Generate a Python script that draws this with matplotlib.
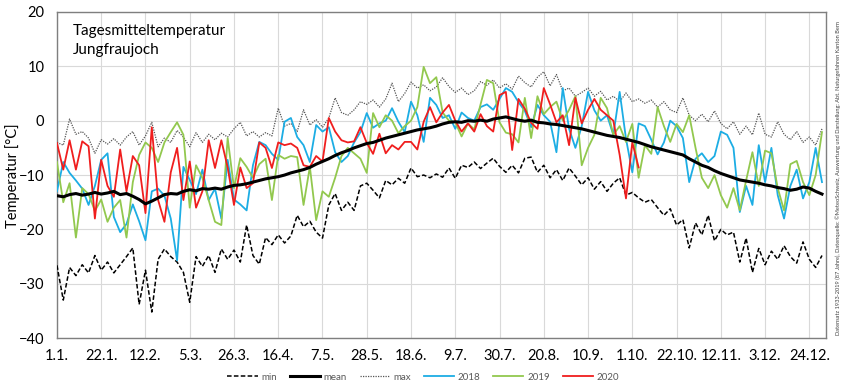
import numpy as np
import matplotlib
matplotlib.use("Agg")
import matplotlib.pyplot as plt

# day-of-year tick positions and labels
tick_days = [1, 22, 43, 64, 85, 106, 127, 148, 169, 190, 211, 232, 253, 274, 295, 316, 337, 358]
tick_labels = ['1.1.', '22.1.', '12.2.', '5.3.', '26.3.', '16.4.', '7.5.', '28.5.', '18.6.',
               '9.7.', '30.7.', '20.8.', '10.9.', '1.10.', '22.10.', '12.11.', '3.12.', '24.12.']

# values read every 3rd day (day 1, 4, 7, ...)
t_min = [-26.6, -33.0, -27.0, -28.5, -26.5, -28.0, -24.8, -27.5, -26.0, -28.0,
         -26.5, -25.0, -23.4, -33.8, -27.5, -35.2, -25.5, -23.6, -25.0, -26.0,
         -27.9, -33.4, -25.0, -26.8, -24.8, -27.9, -23.6, -25.5, -23.8, -26.0,
         -19.2, -24.8, -26.4, -21.5, -22.8, -21.0, -22.5, -21.2, -17.4, -19.5,
         -18.5, -20.5, -21.6, -15.5, -13.4, -16.5, -15.0, -16.5, -12.0, -11.5,
         -12.8, -14.2, -11.0, -11.8, -10.6, -11.5, -8.7, -10.3, -10.0, -10.5,
         -9.8, -10.4, -8.7, -10.6, -8.2, -8.6, -7.6, -8.8, -7.8, -6.9,
         -8.4, -9.5, -8.2, -9.6, -6.9, -6.7, -9.5, -8.2, -10.5, -9.0,
         -11.0, -8.7, -10.2, -11.8, -10.5, -12.6, -11.2, -13.0, -11.5, -10.5,
         -13.7, -13.2, -14.2, -15.0, -14.5, -16.0, -17.4, -16.2, -19.2, -18.2,
         -23.4, -18.8, -21.0, -17.4, -22.1, -20.0, -21.0, -20.5, -26.0, -21.6,
         -27.9, -23.5, -26.5, -24.0, -25.5, -23.0, -25.0, -26.2, -22.3, -25.5,
         -27.0, -24.8]

t_mean = [-13.8, -14.0, -13.6, -13.4, -13.7, -13.5, -13.2, -13.5, -13.3, -13.0,
          -13.6, -13.4, -13.9, -14.5, -15.3, -14.8, -14.2, -13.6, -13.4, -13.5,
          -13.0, -12.7, -12.9, -12.5, -12.6, -12.4, -12.6, -12.2, -11.9, -11.8,
          -11.6, -11.3, -11.0, -10.7, -10.5, -10.3, -10.0, -9.6, -9.3, -9.0,
          -8.6, -8.0, -7.5, -7.0, -6.4, -5.9, -5.5, -5.0, -4.6, -4.2,
          -4.0, -3.6, -3.2, -2.9, -2.6, -2.3, -2.0, -1.7, -1.5, -1.3,
          -1.0, -0.6, -0.3, -0.2, -0.3, 0.0, -0.1, 0.1, -0.1, 0.3,
          0.5, 0.7, 0.4, 0.1, -0.1, 0.1, -0.3, -0.4, -0.6, -0.7,
          -0.9, -1.1, -1.3, -1.5, -1.8, -2.1, -2.4, -2.7, -2.9, -3.1,
          -3.4, -3.7, -4.0, -4.4, -4.8, -5.1, -5.4, -5.7, -6.0, -6.3,
          -7.0, -7.6, -8.2, -8.6, -9.2, -9.7, -10.1, -10.5, -10.9, -11.1,
          -11.3, -11.5, -11.8, -12.0, -12.3, -12.5, -12.8, -12.6, -12.2, -12.4,
          -13.0, -13.5]

t_max = [-4.0, -4.5, 0.3, -2.5, -2.0, -3.2, -6.0, -3.5, -4.3, -3.3,
         -4.5, -3.0, -2.0, -4.5, -2.8, -0.3, -4.8, -3.2, -4.0, -1.8,
         -3.0, -4.8, -2.2, -4.0, -2.5, -3.5, -2.3, -3.0, -1.5, -0.3,
         -2.8, -2.0, -3.0, -2.2, -2.8, 2.3, -1.0, -0.5, -2.0, 2.0,
         -0.8, 0.2, -1.2, 0.5, 4.2, 1.5, 1.0, 2.0, 3.5, 3.0,
         3.8, 2.5, 4.0, 6.9, 3.5, 5.0, 7.1, 6.0, 6.6, 5.5,
         6.2, 7.9, 6.3, 5.2, 6.0, 4.8, 5.5, 7.2, 6.5, 7.5,
         6.0, 6.8, 5.8, 8.2, 7.0, 6.2, 8.0, 9.0, 6.4, 8.5,
         5.5, 6.0, 4.5, 5.2, 6.0, 4.5, 5.4, 3.8, 4.5, 3.5,
         5.1, 3.5, 4.0, 3.2, 3.8, 2.5, 3.5, 2.0, 1.5, 4.2,
         1.0, 0.0, 1.2, -0.2, 1.8, -0.5, -1.5, -0.2, -2.5, -1.0,
         -2.6, 1.4, -2.5, -3.0, -0.2, -2.5, -3.5, -2.0, -4.0, -3.0,
         -4.5, -1.5]

t_2018 = [-13.0, -7.6, -9.6, -11.0, -12.5, -15.5, -12.0, -7.2, -6.0, -17.7,
          -20.5, -19.0, -15.4, -18.5, -22.0, -13.0, -12.5, -13.8, -18.0, -25.7,
          -8.5, -10.9, -13.5, -9.0, -14.6, -12.5, -18.0, -7.2, -14.5, -15.4,
          -16.5, -8.2, -3.9, -4.5, -6.1, -7.2, -0.2, 0.5, -3.0, -4.5,
          -7.6, -0.8, -2.0, -1.2, -5.8, -7.6, -6.5, -4.0, -2.1, 1.4,
          -1.3, -0.5, 0.0, 2.3, -0.2, -2.1, 3.5, 1.0, -3.9, 4.2,
          2.9, 0.5, 1.0, -1.5, 1.5, 0.5, 0.0, 2.5, 3.0, 2.0,
          4.0, 6.0, 5.3, 3.4, 1.8, -1.2, 2.9, 1.0, -0.2, -5.8,
          6.0, -1.5, -5.0, -1.0, 5.3, 1.9, 0.0, 1.0, -2.6, 5.3,
          -3.3, -9.5, -0.5, -1.0, -3.5, -6.2, -4.0, 0.0, -1.0, -3.2,
          -11.3, -7.0, -6.0, -7.6, -6.5, -2.0, -2.6, -5.0, -16.8, -12.0,
          -15.5, -4.5, -11.3, -5.0, -13.7, -18.0, -12.0, -9.0, -14.3, -11.3,
          -5.0, -11.3]

t_2019 = [-7.6, -15.0, -11.5, -21.5, -12.4, -13.5, -16.6, -14.5, -18.6, -16.0,
          -14.6, -21.5, -11.3, -6.3, -4.0, -5.0, -7.6, -4.0, -2.1, -0.3,
          -2.6, -16.0, -8.2, -10.5, -14.6, -18.6, -19.2, -3.2, -12.4, -6.9,
          -8.5, -10.5, -8.0, -7.0, -14.6, -6.3, -7.0, -6.5, -6.7, -15.5,
          -8.5, -18.3, -13.0, -14.0, -10.5, -6.5, -5.0, -6.0, -7.0, -9.6,
          1.4, -1.2, 1.0, 0.0, -2.3, -1.0, 0.0, 2.5, 9.9, 6.9,
          8.0, 1.5, 0.0, -0.3, -2.9, -0.5, -1.6, 3.0, 7.5, 6.9,
          -0.3, -2.2, -2.5, -4.0, 4.2, -3.2, 4.5, 1.2, 2.5, 3.5,
          0.0, 2.0, 4.5, -8.2, -5.0, -2.6, 4.2, 2.3, -2.6, -1.0,
          -3.9, -0.6, -10.5, -4.5, -6.1, 2.5, -1.0, -3.9, -0.6, -2.1,
          1.0, -5.0, -10.5, -12.4, -10.0, -13.7, -16.0, -12.4, -16.5, -11.0,
          -5.8, -12.0, -5.5, -6.0, -12.4, -16.5, -8.0, -7.4, -11.3, -13.7,
          -10.0, -2.1]

# 2020 only until early October
t_2020 = [-4.1, -9.0, -3.6, -9.0, -3.8, -4.7, -18.0, -7.2, -12.0, -14.0,
          -5.3, -13.0, -6.5, -8.2, -17.0, -1.2, -14.6, -18.6, -9.5, -5.0,
          -14.6, -7.5, -16.0, -13.0, -3.6, -8.7, -3.6, -8.6, -15.5, -8.6,
          -12.4, -11.5, -4.0, -5.0, -8.7, -4.0, -4.5, -4.2, -5.0, -8.2,
          -8.5, -6.5, -7.5, 0.5, -2.0, -3.6, -4.0, -3.8, -1.2, -4.1,
          -6.1, -2.4, -6.0, -4.5, -5.3, -3.9, -3.9, -5.3, -0.2, 2.5,
          -0.3, 1.5, 2.9, 0.0, -2.0, -0.5, -2.0, 1.2, -1.0, -2.0,
          4.7, 5.3, -5.4, 4.0, 2.2, -0.4, -1.5, 6.0, 3.0, -0.3,
          1.0, -4.5, 4.2, -0.5, 2.0, 4.0, 2.0, 1.0, 0.0, -6.3,
          -14.3, -4.0, -8.6]

plt.rcParams['font.family'] = ['Lato', 'DejaVu Sans']

fig = plt.figure(figsize=(8.5, 3.86), dpi=100)
ax = fig.add_axes([0.067, 0.124, 0.905, 0.845])

def days(vals):
    return np.arange(len(vals)) * 3 + 1

ax.plot(days(t_min), t_min, color='black', lw=1.1, ls=(0, (3, 1.5)), label='min', zorder=3)
ax.plot(days(t_max), t_max, color='#555555', lw=0.9, ls=(0, (1, 1)), label='max', zorder=3)
ax.plot(days(t_2018), t_2018, color='#1CADE4', lw=1.3, label='2018', zorder=4)
ax.plot(days(t_2019), t_2019, color='#92C84E', lw=1.3, label='2019', zorder=4)
ax.plot(days(t_2020), t_2020, color='#F01E1E', lw=1.3, label='2020', zorder=5)
ax.plot(days(t_mean), t_mean, color='black', lw=2.2, label='mean', zorder=6)

ax.set_xlim(1, 366)
ax.set_ylim(-40, 20)
ax.set_yticks(range(-40, 21, 10))
ax.set_xticks(tick_days)
ax.set_xticklabels(tick_labels)
ax.tick_params(axis='both', length=0, labelsize=10.5)
ax.tick_params(axis='x', pad=8)
ax.tick_params(axis='y', pad=9)
ax.grid(True, color='#D9D9D9', lw=0.8)
ax.set_axisbelow(True)
for s in ax.spines.values():
    s.set_color('#7F7F7F')
    s.set_linewidth(1.0)

fig.text(0.015, 0.545, 'Temperatur [°C]', rotation=90, ha='center', va='center', fontsize=10.5)
ax.text(0.021, 0.962, 'Tagesmitteltemperatur\nJungfraujoch', transform=ax.transAxes,
        ha='left', va='top', fontsize=11, linespacing=1.45)

note = fig.text(0.986, 0.538, 'Datensatz 1933-2019 (87 Jahre), Datenquelle: ©MeteoSchweiz, '
                'Auswertung und Darstellung: Abt. Naturgefahren Kanton Bern',
                rotation=90, ha='center', va='center', fontsize=4.6, color='#404040')
# shrink the side note so it spans about the plot height
fig.canvas.draw()
h = note.get_window_extent().height
note.set_fontsize(4.6 * 313 / h)

handles, labels = ax.get_legend_handles_labels()
order = ['min', 'mean', 'max', '2018', '2019', '2020']
hmap = dict(zip(labels, handles))
leg = fig.legend([hmap[k] for k in order], order, loc='lower center', ncol=6,
                 bbox_to_anchor=(0.498, -0.012), frameon=False, fontsize=7,
                 handlelength=3.1, columnspacing=1.3, handletextpad=0.4)
for t in leg.get_texts():
    t.set_color('#595959')

fig.savefig('out.png', dpi=100)
